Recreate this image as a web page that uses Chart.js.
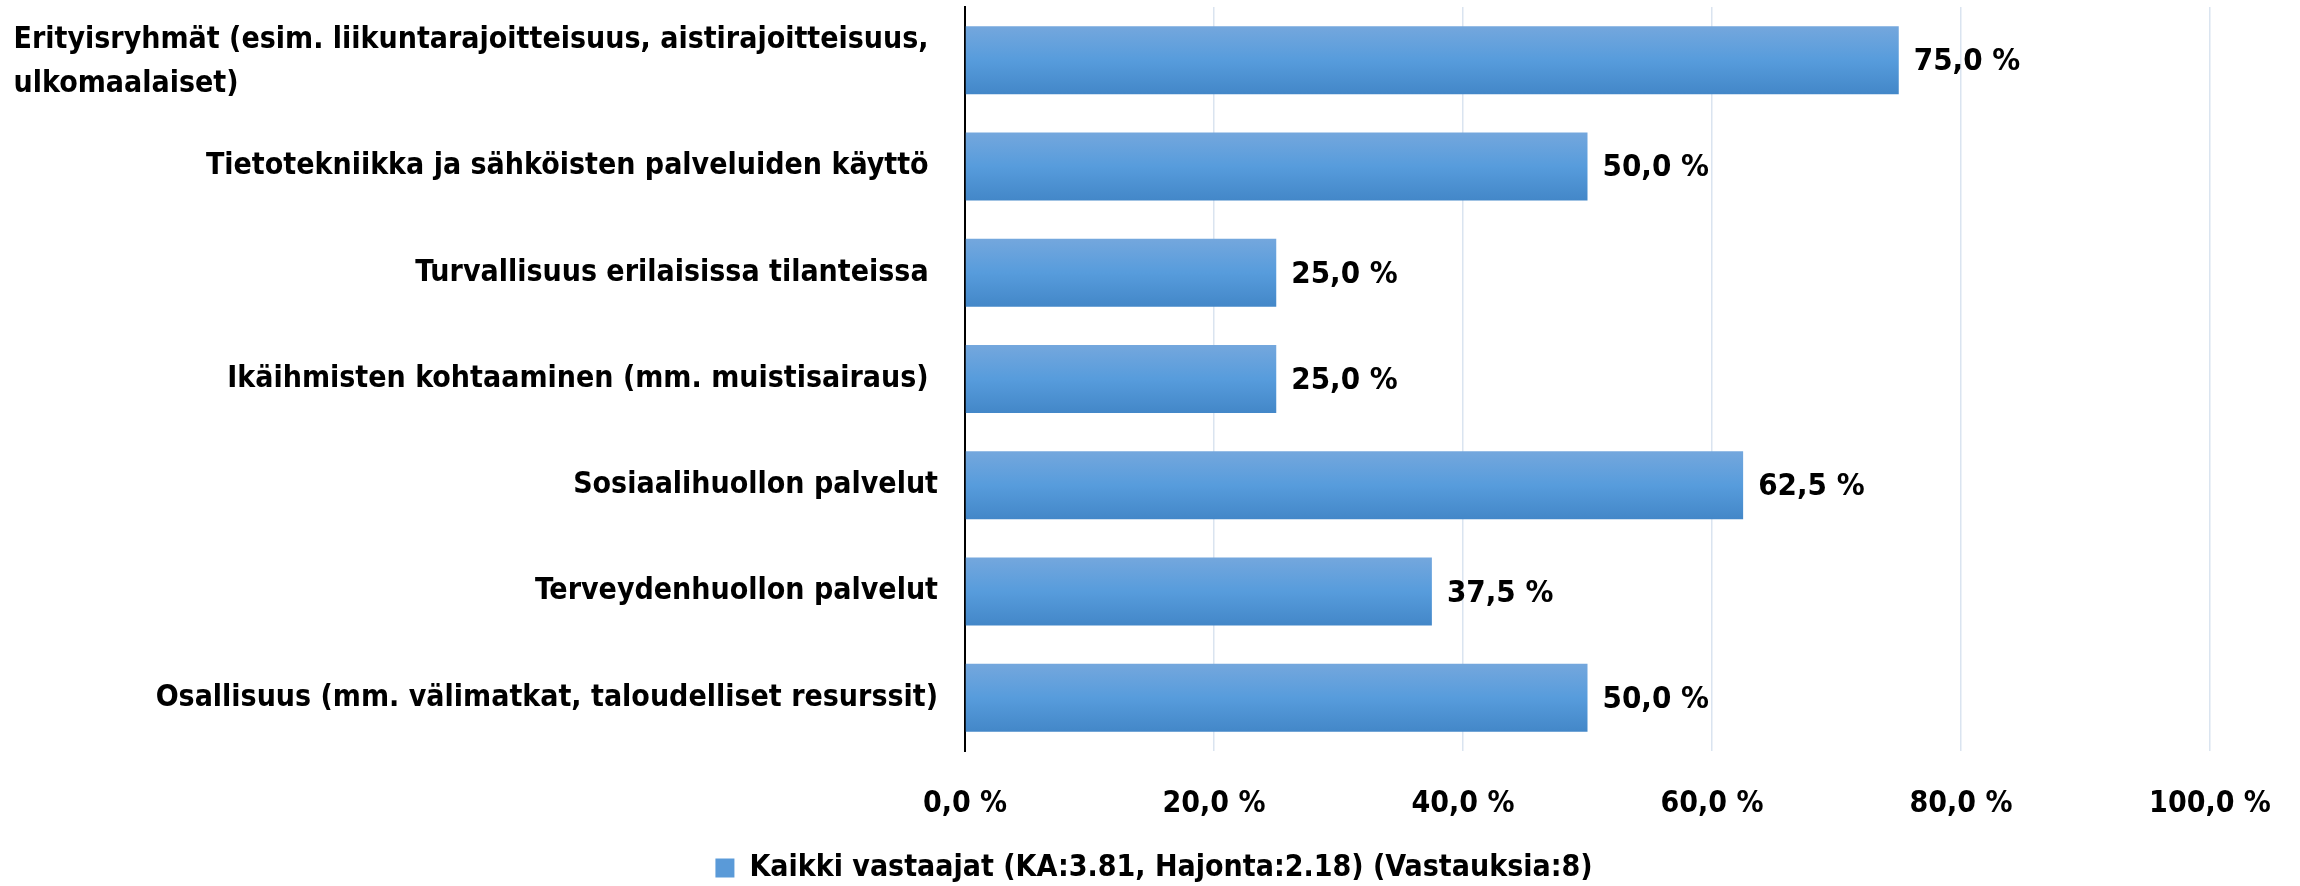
<!DOCTYPE html>
<html>
<head>
<meta charset="utf-8">
<script src="https://cdn.jsdelivr.net/npm/chart.js@4/dist/chart.umd.min.js"></script>
<style>
  html, body { margin: 0; padding: 0; background: #fff; }
  #wrap { width: 2300px; height: 886px; position: relative; }
</style>
</head>
<body>
<div id="wrap"><canvas id="c" width="2300" height="886"></canvas></div>
<script>
// ---- data ----
const categories = [
  ["Erityisryhmät (esim. liikuntarajoitteisuus, aistirajoitteisuus, ", "ulkomaalaiset)"],
  "Tietotekniikka ja sähköisten palveluiden käyttö ",
  "Turvallisuus erilaisissa tilanteissa ",
  "Ikäihmisten kohtaaminen (mm. muistisairaus) ",
  "Sosiaalihuollon palvelut",
  "Terveydenhuollon palvelut",
  "Osallisuus (mm. välimatkat, taloudelliset resurssit)"
];
const values = [75.0, 50.0, 25.0, 25.0, 62.5, 37.5, 50.0];
const seriesName = "Kaikki vastaajat (KA:3.81, Hajonta:2.18) (Vastauksia:8)";
const xTickValues = [0, 20, 40, 60, 80, 100];
const xTickLabels = ["0,0 %", "20,0 %", "40,0 %", "60,0 %", "80,0 %", "100,0 %"];

// ---- style ----
const FONT = "'DejaVu Sans Condensed', 'Liberation Sans Narrow', sans-serif";
const LABEL_SIZE = 30;
const NUM_SIZE = 30;
const VAL_SIZE = 31;
const BAR_FRACTION = 0.64;
const Y_AXIS_WIDTH = 965;
const LABEL_GAP = 27;
const RIGHT_SPACE = 90;

function fmt(v) { return v.toFixed(1).replace('.', ',') + ' %'; }

function barGradient(ctx) {
  const chart = ctx.chart;
  const area = chart.chartArea;
  const ys = chart.scales.y;
  if (!area || !ys || ctx.dataIndex === undefined) return '#5B9BD5';
  const c = ys.getPixelForValue(ctx.dataIndex);
  const half = (area.height / categories.length) * BAR_FRACTION / 2;
  const g = chart.ctx.createLinearGradient(0, c - half, 0, c + half);
  g.addColorStop(0, '#74A7DD');
  g.addColorStop(0.5, '#579CDC');
  g.addColorStop(1, '#4387C8');
  return g;
}

const yLabelPlugin = {
  id: 'yLabels',
  afterDraw(chart) {
    const ys = chart.scales.y;
    const ctx = chart.ctx;
    ctx.save();
    ctx.font = 'bold ' + LABEL_SIZE + 'px ' + FONT;
    ctx.fillStyle = '#000';
    ctx.textBaseline = 'middle';
    const xr = ys.right - LABEL_GAP;
    ys.ticks.forEach((t, i) => {
      const lab = ys.getLabelForValue(t.value);
      const raw = categories[t.value];
      const y = ys.getPixelForTick(i);
      if (Array.isArray(raw)) {
        const lh = 44;
        const w = Math.max(...raw.map(s => ctx.measureText(s).width));
        ctx.textAlign = 'left';
        const y0 = y - (raw.length - 1) * lh / 2 + 2;
        raw.forEach((s, k) => ctx.fillText(s, xr - w, y0 + k * lh));
      } else {
        ctx.textAlign = 'right';
        ctx.fillText(String(lab), xr, y);
      }
    });
    ctx.restore();
  }
};

const valueLabelPlugin = {
  id: 'valueLabels',
  afterDatasetsDraw(chart) {
    const ctx = chart.ctx;
    const meta = chart.getDatasetMeta(0);
    ctx.save();
    ctx.font = 'bold ' + VAL_SIZE + 'px ' + FONT;
    ctx.fillStyle = '#000';
    ctx.textAlign = 'left';
    ctx.textBaseline = 'middle';
    meta.data.forEach((el, i) => {
      ctx.fillText(fmt(values[i]), el.x + 15, el.y + 2);
    });
    ctx.restore();
  }
};

const legendShiftPlugin = {
  id: 'legendShift',
  afterLayout(chart) {
    const lg = chart.legend;
    if (lg) { const d = 4; lg.left += d; lg.right += d; }
  }
};

new Chart(document.getElementById('c'), {
  type: 'bar',
  data: {
    labels: categories,
    datasets: [{
      label: seriesName,
      data: values,
      backgroundColor: barGradient,
      borderWidth: 0,
      barPercentage: 0.8,
      categoryPercentage: 0.8
    }]
  },
  options: {
    indexAxis: 'y',
    responsive: false,
    animation: false,
    devicePixelRatio: 1,
    layout: { padding: { top: 7, right: 0, left: 0, bottom: -7 } },
    scales: {
      x: {
        min: 0, max: 100,
        afterBuildTicks(scale) { scale.ticks = xTickValues.map(v => ({ value: v })); },
        afterFit(scale) {
          scale.height = 90;
          scale.paddingRight = RIGHT_SPACE;
          scale.paddingLeft = 0;
        },
        ticks: {
          callback(v, i) { return xTickLabels[i]; },
          font: { family: FONT, size: NUM_SIZE, weight: 'bold' },
          color: '#000',
          padding: 35,
          maxRotation: 0
        },
        grid: {
          color: '#DAE4F0',
          lineWidth: 1.5,
          drawTicks: false
        },
        border: { display: false }
      },
      y: {
        afterFit(scale) { scale.width = Y_AXIS_WIDTH; },
        ticks: { display: false },
        grid: { display: false, drawTicks: false },
        border: { display: true, color: '#000', width: 2 }
      }
    },
    plugins: {
      tooltip: { enabled: false },
      legend: {
        position: 'bottom',
        labels: {
          font: { family: FONT, size: LABEL_SIZE, weight: 'bold' },
          color: '#000',
          boxWidth: 19,
          boxHeight: 19,
          padding: 12,
          generateLabels(chart) {
            return [{
              text: seriesName,
              fillStyle: '#5A9AD8',
              strokeStyle: '#5A9AD8',
              lineWidth: 0,
              hidden: false,
              datasetIndex: 0
            }];
          }
        }
      }
    }
  },
  plugins: [yLabelPlugin, valueLabelPlugin, legendShiftPlugin]
});
</script>
</body>
</html>
